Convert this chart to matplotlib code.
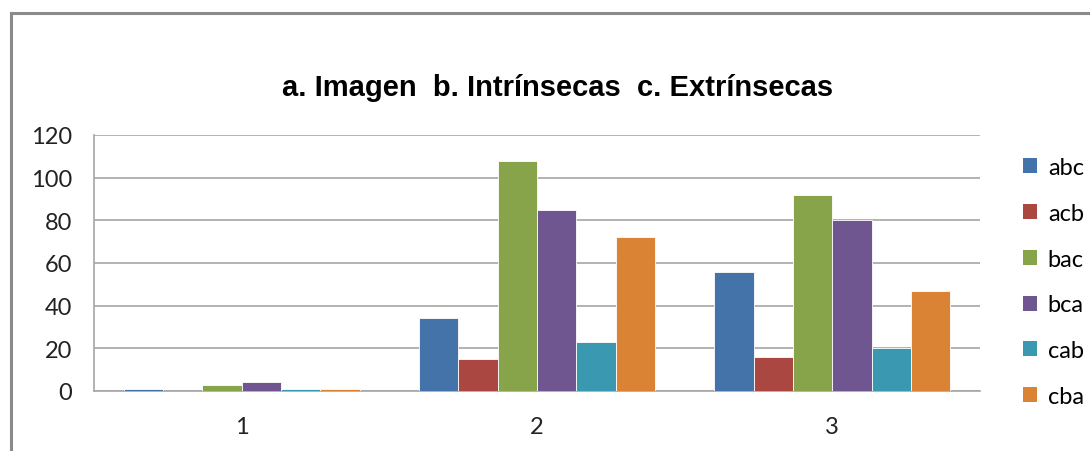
import matplotlib
matplotlib.use("Agg")
import numpy as np
from matplotlib import pyplot as plt
from matplotlib.lines import Line2D
from matplotlib.patches import Patch

# ------------------------------------
# Data

categories = ["1", "2", "3"]
series_names = ["abc", "acb", "bac", "bca", "cab", "cba"]
abc = [1, 34, 56]
acb = [0, 15, 16]
bac = [3, 108, 92]
bca = [4, 85, 80]
cab = [1, 23, 20]
cba = [1, 72, 47]
series_values = [abc, acb, bac, bca, cab, cba]
colors = ["#4373A8", "#AA4741", "#88A44A", "#6F5690", "#3A99B1", "#DB8335"]

# ------------------------------------
# Plot

W, H = 1090, 452
fig = plt.figure(figsize=(W / 100, H / 100), dpi=100)
fig.patch.set_facecolor("white")

# outer chart frame (cropped at right/bottom)
fig.add_artist(Line2D([11 / W, 1.0], [1 - 14 / H, 1 - 14 / H],
                      transform=fig.transFigure, color="#8a8a8a", lw=2.2))
fig.add_artist(Line2D([11 / W, 11 / W], [1 - 14 / H, 0.0],
                      transform=fig.transFigure, color="#8a8a8a", lw=2.2))

ax = fig.add_axes([94 / W, 1 - 392 / H, (980 - 94) / W, (392 - 136) / H])

x = np.arange(1, len(categories) + 1)
width = 0.8 / len(series_names)
for i, (name, vals) in enumerate(zip(series_names, series_values)):
    offset = (i - (len(series_names) - 1) / 2) * width
    ax.bar(x + offset, vals, width, color=colors[i], label=name,
           edgecolor="white", linewidth=0.6, zorder=3)

ax.set_xlim(0.5, 3.5)
ax.set_ylim(0, 120)
ax.set_yticks(range(0, 121, 20))
ax.set_xticks(x)
ax.set_xticklabels(categories)
ax.yaxis.grid(True, color="#a6a6a6", linewidth=1.2, zorder=0)
ax.set_axisbelow(True)
for side in ["top", "right"]:
    ax.spines[side].set_visible(False)
for side in ["left", "bottom"]:
    ax.spines[side].set_color("#a6a6a6")
    ax.spines[side].set_linewidth(1.2)
ax.tick_params(axis="both", length=0, labelsize=17, labelcolor="#222222",
               labelfontfamily="Lato")
ax.tick_params(axis="y", pad=16)
ax.tick_params(axis="x", pad=18)

fig.text(558 / W, 1 - 88 / H, "a. Imagen  b. Intrínsecas  c. Extrínsecas",
         ha="center", va="center", fontsize=21, fontweight="bold",
         family="Liberation Sans")

handles = [Patch(facecolor=c, edgecolor="none") for c in colors]
fig.legend(handles, series_names, loc="upper left",
           bbox_to_anchor=(1023 / W, 1 - 158 / H), frameon=False,
           borderpad=0, borderaxespad=0,
           handlelength=0.6, handleheight=0.6, handletextpad=0.45,
           labelspacing=1.05, prop={"family": "Lato", "size": 17})

plt.savefig("out.png", dpi=100)
